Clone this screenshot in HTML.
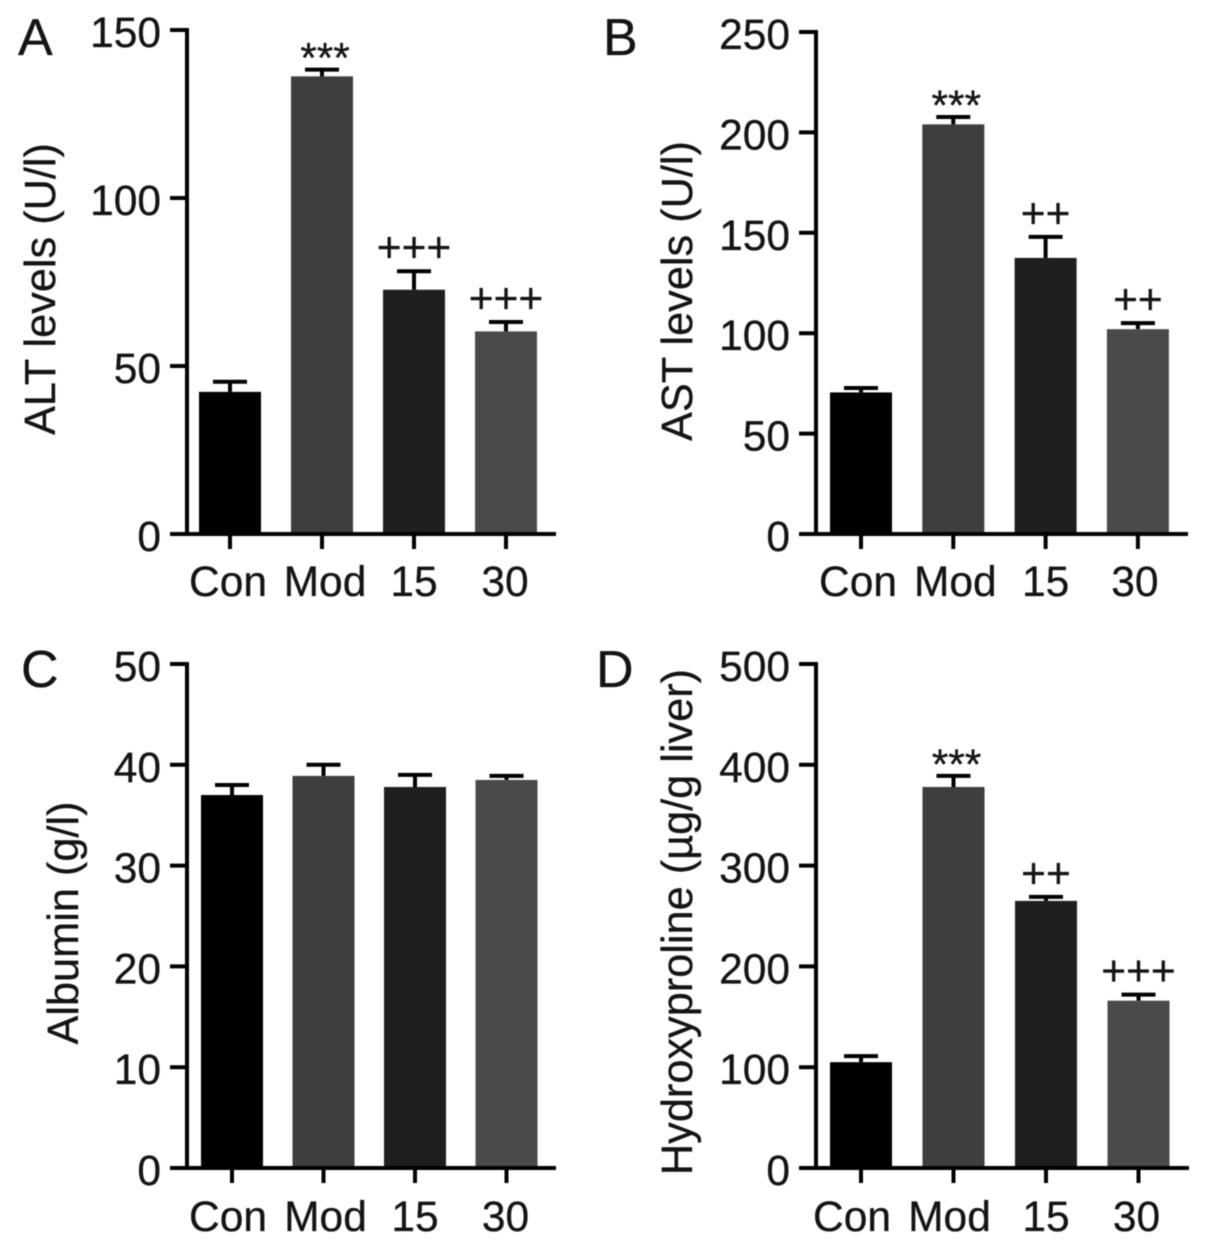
<!DOCTYPE html>
<html lang="en">
<head>
<meta charset="utf-8">
<title>Liver marker bar charts</title>
<style>
html,body{margin:0;padding:0;background:#fff;}
body{width:1205px;height:1247px;overflow:hidden;}
svg{display:block;filter:blur(0.45px);}
text{font-family:"Liberation Sans",sans-serif;fill:#141414;stroke:#141414;stroke-width:0.3px;font-size:42.5px;}
</style>
</head>
<body>
<svg id="figure" width="1205" height="1247" viewBox="0 0 1205 1247" xmlns="http://www.w3.org/2000/svg"></svg>
<script>
// ---- Data ----
const categories = ['Con', 'Mod', '15', '30'];
const barColors = ['#000000', '#3e3e3e', '#1f1f1f', '#4a4a4a'];

const altValues = [42.3, 136.2, 72.7, 60.3];
const altErrors = [3, 2, 5.5, 2.8];
const altMarks = ['', '***', '+++', '+++'];
const altTicks = [0, 50, 100, 150];

const astValues = [70.5, 204, 137.5, 102];
const astErrors = [2.2, 3.7, 10.5, 3];
const astMarks = ['', '***', '++', '++'];
const astTicks = [0, 50, 100, 150, 200, 250];

const albuminValues = [37, 38.9, 37.8, 38.5];
const albuminErrors = [1, 1.1, 1.2, 0.4];
const albuminMarks = ['', '', '', ''];
const albuminTicks = [0, 10, 20, 30, 40, 50];

const hypValues = [105, 378, 265, 166];
const hypErrors = [6, 11, 4, 6];
const hypMarks = ['', '***', '++', '+++'];
const hypTicks = [0, 100, 200, 300, 400, 500];

// ---- Layout ----
const panels = [
  {id:'a', letter:'A', letterX:18, letterY:55, title:'ALT levels (U/l)', titleX:55, titleY:289,
   values:altValues, errors:altErrors, marks:altMarks, ticks:altTicks,
   axisX:187, top:30, base:534, xEnd:556, first:230, step:92, catY:596, catShift:[-2,3,0,-1]},
  {id:'b', letter:'B', letterX:603, letterY:55, title:'AST levels (U/l)', titleX:692, titleY:291,
   values:astValues, errors:astErrors, marks:astMarks, ticks:astTicks,
   axisX:816, top:32, base:534, xEnd:1188, first:861, step:92.3, catY:596, catShift:[-3,2,0,-3]},
  {id:'c', letter:'C', letterX:21, letterY:687, title:'Albumin (g/l)', titleX:78, titleY:923,
   values:albuminValues, errors:albuminErrors, marks:albuminMarks, ticks:albuminTicks,
   axisX:187, top:664, base:1168, xEnd:556, first:232, step:91.5, catY:1231, catShift:[-4,2,0,-1]},
  {id:'d', letter:'D', letterX:596, letterY:687, title:'Hydroxyproline (\u00b5g/g liver)', titleX:692, titleY:922,
   values:hypValues, errors:hypErrors, marks:hypMarks, ticks:hypTicks,
   axisX:816, top:664, base:1168, xEnd:1189, first:861, step:92.5, catY:1231, catShift:[-9,-4,0,-2]}
];

const NS = 'http://www.w3.org/2000/svg';
const fig = document.getElementById('figure');

function make(parent, tag, attrs, txt) {
  const el = document.createElementNS(NS, tag);
  for (const k in attrs) el.setAttribute(k, attrs[k]);
  if (txt !== undefined) el.textContent = txt;
  parent.appendChild(el);
  return el;
}

panels.forEach(function (p) {
  const maxTick = p.ticks[p.ticks.length - 1];
  const yScale = function (v) { return p.base - (v / maxTick) * (p.base - p.top); };
  const xScale = function (i) { return p.first + i * p.step; };
  const barW = 62, capHalf = 17;

  const g = make(fig, 'g', {});
  
  

  const letter = make(g, 'text', {x:p.letterX, y:p.letterY, style:'font-size:52px'}, p.letter);
  
  

  const title = make(g, 'text', {
    x:p.titleX, y:p.titleY, 'text-anchor':'middle', style:'font-size:43.3px',
    transform:'rotate(-90 ' + p.titleX + ' ' + p.titleY + ')'
  }, p.title);
  
  

  // bars and error bars
  p.values.forEach(function (v, i) {
    const cx = xScale(i);
    const top = yScale(v + p.errors[i]);
    const err = make(g, 'path', {
      d:'M' + cx + ' ' + yScale(v) + 'V' + top + 'M' + (cx - capHalf) + ' ' + top + 'H' + (cx + capHalf),
      stroke:'#000', 'stroke-width':4, fill:'none'
    });
    
    

    const bar = make(g, 'rect', {
      x:cx - barW / 2, y:yScale(v), width:barW, height:p.base - yScale(v), fill:barColors[i]
    });
    
    

    if (p.marks[i]) {
      const isStar = p.marks[i].charAt(0) === '*';
      const mark = make(g, 'text', {
        x:cx + (isStar ? 3 : 0), y:top + (isStar ? 3 : -9), 'text-anchor':'middle'
      }, p.marks[i]);
      
      
    }

    const tick = make(g, 'line', {x1:cx, x2:cx, y1:p.base, y2:p.base + 15, stroke:'#000', 'stroke-width':4});
    
    

    const cat = make(g, 'text', {x:cx + p.catShift[i], y:p.catY, 'text-anchor':'middle'}, categories[i]);
    
    
  });

  // axes
  const yAxis = make(g, 'line', {x1:p.axisX, x2:p.axisX, y1:p.top - 2, y2:p.base + 2, stroke:'#000', 'stroke-width':4});
  
  

  const xAxis = make(g, 'line', {x1:p.axisX - 17, x2:p.xEnd, y1:p.base, y2:p.base, stroke:'#000', 'stroke-width':4});
  
  

  p.ticks.forEach(function (t) {
    const y = yScale(t);
    const tick = make(g, 'line', {x1:p.axisX - 17, x2:p.axisX, y1:y, y2:y, stroke:'#000', 'stroke-width':4});
    
    

    const lab = make(g, 'text', {x:p.axisX - 26, y:y + 17, 'text-anchor':'end'}, String(t));
    
    
  });
});
</script>
</body>
</html>
